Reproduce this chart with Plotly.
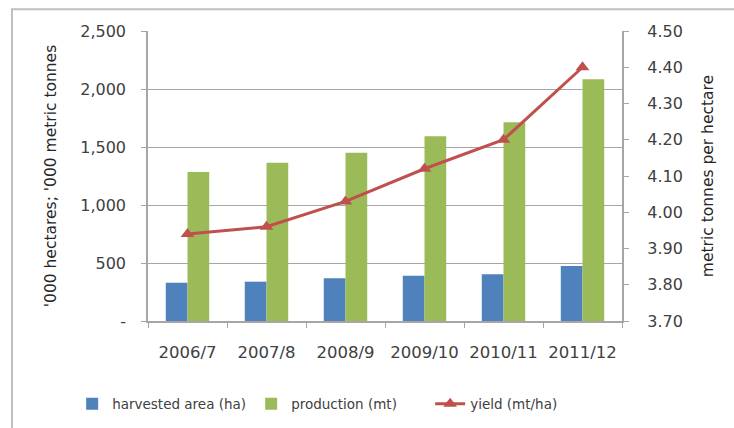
import plotly.graph_objects as go

seasons = ["2006/7", "2007/8", "2008/9", "2009/10", "2010/11", "2011/12"]
harvested_area = [330, 339, 368, 391, 402, 474]
production = [1284, 1365, 1451, 1592, 1713, 2083]
yield_mt_ha = [3.94, 3.96, 4.03, 4.12, 4.20, 4.40]

left_ticks = [0, 500, 1000, 1500, 2000, 2500]
left_labels = ["-", "500", "1,000", "1,500", "2,000", "2,500"]
right_ticks = [3.70, 3.80, 3.90, 4.00, 4.10, 4.20, 4.30, 4.40, 4.50]
right_labels = ["\u00a0\u00a0\u00a0" + f"{v:.2f}" for v in right_ticks]

FONT = "DejaVu Sans"
TXT = "#404040"

fig = go.Figure()
fig.add_trace(go.Bar(x=seasons, y=harvested_area, name="harvested area (ha)",
                     marker=dict(color="#4f81bd", line=dict(width=0))))
fig.add_trace(go.Bar(x=seasons, y=production, name="production (mt)",
                     marker=dict(color="#9bbb59", line=dict(width=0))))
fig.add_trace(go.Scatter(x=seasons, y=yield_mt_ha, name="yield (mt/ha)", yaxis="y2",
                         mode="lines+markers",
                         line=dict(color="#c0504d", width=3),
                         marker=dict(symbol="triangle-up", size=12, color="#c0504d")))

fig.update_layout(
    width=734, height=428,
    margin=dict(l=148, r=112, t=31, b=107, autoexpand=False),
    paper_bgcolor="white", plot_bgcolor="white",
    font=dict(family=FONT, color=TXT, size=14),
    barmode="group", bargap=0.45, bargroupgap=0,
    showlegend=True,
    legend=dict(orientation="h", xref="paper", yref="paper",
                x=-0.16, y=-0.286, xanchor="left", yanchor="middle",
                font=dict(size=13.5, color=TXT, family=FONT),
                itemwidth=30, entrywidth=134, entrywidthmode="pixels",
                traceorder="normal", bgcolor="rgba(0,0,0,0)"),
    xaxis=dict(type="category", showgrid=False, showline=True, linecolor="#a6a6a6",
               linewidth=1.5, ticks="outside", tickcolor="#a6a6a6", ticklen=5,
               tickson="boundaries", tickfont=dict(size=16.5, color=TXT), tickangle=0,
               ticklabelstandoff=15, automargin=False),
    yaxis=dict(range=[0, 2500], tickvals=left_ticks, ticktext=left_labels,
               showgrid=True, gridcolor="#a6a6a6", gridwidth=1.2,
               showline=True, linecolor="#a6a6a6", linewidth=1.5,
               ticks="outside", tickcolor="#a6a6a6", ticklen=5,
               tickfont=dict(size=16, color=TXT), ticklabelstandoff=12,
               zeroline=False, automargin=False,
               title=dict(text="'000 hectares; '000 metric tonnes", standoff=20,
                          font=dict(size=15.5, color="#262626"))),
    yaxis2=dict(range=[3.70, 4.50], tickvals=right_ticks, ticktext=right_labels,
                overlaying="y", side="right", showgrid=False,
                showline=True, linecolor="#a6a6a6", linewidth=1.5,
                ticks="outside", tickcolor="#a6a6a6", ticklen=5,
                tickfont=dict(size=16, color=TXT),
                zeroline=False, automargin=False,
                title=dict(text="metric tonnes per hectare", standoff=20,
                           font=dict(size=15.5, color="#262626"))),
)

fig.add_shape(type="rect", xref="paper", yref="paper",
              x0=-0.287, y0=-2, x1=3, y1=1.075,
              line=dict(color="#bfbfbf", width=2), fillcolor="rgba(0,0,0,0)", layer="below")

fig.write_html("out.html", config={"displayModeBar": False},
               post_script="document.body.style.margin='0';document.body.style.overflow='hidden';")
